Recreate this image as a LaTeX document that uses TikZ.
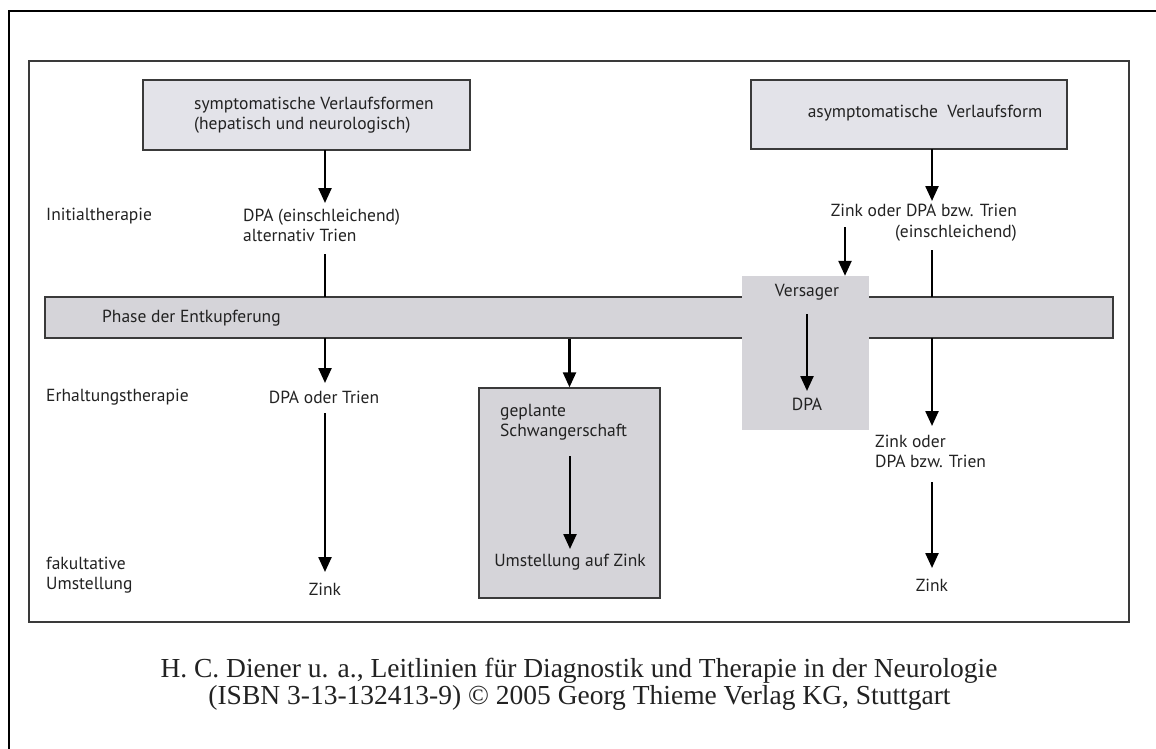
\documentclass[tikz,border=0pt]{standalone}
\usepackage{fontspec}
\setmainfont{PT Sans}
\newfontfamily\capfont{Liberation Serif}
\usetikzlibrary{arrows.meta}
\definecolor{boxtop}{HTML}{E3E3E9}
\definecolor{boxgray}{HTML}{D5D4D9}
\definecolor{framegray}{HTML}{3A3A3A}
\definecolor{txt}{HTML}{222222}
\tikzset{
  arr/.style={line width=2.4pt, black, -{Triangle[width=13pt,length=15pt]}},
  plainline/.style={line width=2.4pt, black},
  lbl/.style={inner sep=0pt, text=txt, font=\fontsize{17.5}{20.5}\selectfont},
  caplbl/.style={inner sep=0pt, text=txt, font=\capfont\fontsize{27.5}{27}\selectfont},
  topbox/.style={draw=framegray, line width=1.4pt, fill=boxtop},
  graybox/.style={draw=framegray, line width=1.4pt, fill=boxgray},
}
\begin{document}
\begin{tikzpicture}[x=1pt,y=-1pt]
\useasboundingbox (0,0) rectangle (1156,749);
\fill[white] (0,0) rectangle (1156,749);
% outer frame (only top and left visible)
\draw[line width=2.5pt, black] (9,760) -- (9,11) -- (1170,11);
% inner frame
\draw[framegray, line width=1.3pt] (29,61) rectangle (1129,622);

% top boxes
\node[topbox, minimum width=327pt, minimum height=70pt, inner sep=0pt] (box1) at (306.5,115) {};
\node[lbl, anchor=west, align=left] (box1t) at (194,115) {symptomatische Verlaufsformen\\(hepatisch und neurologisch)};
\node[topbox, minimum width=316pt, minimum height=69pt, inner sep=0pt] (box2) at (909,114.5) {};
\node[lbl] (box2t) at (925,113) {asymptomatische\ \ Verlaufsform};

% bar
\node[graybox, minimum width=1068pt, minimum height=41pt, inner sep=0pt] (bar) at (579,317.5) {};
\node[lbl, anchor=west] (bart) at (102,318) {Phase der Entkupferung};

% Versager box (on top of bar, no border)
\node[fill=boxgray, minimum width=127pt, minimum height=154pt, inner sep=0pt] (vers) at (805.5,353) {};
\node[lbl] (verst) at (807,292) {Versager};
\node[lbl] (versdpa) at (807,404) {DPA};

% left labels
\node[lbl, anchor=west] (init) at (46,216) {Initialtherapie};
\node[lbl, anchor=west] (erh) at (46,397) {Erhaltungstherapie};
\node[lbl, anchor=west, align=left] (fak) at (46,575) {fakultative\\Umstellung};

% left column
\node[lbl, anchor=west, align=left] (dpa1) at (243,225.5) {DPA (einschleichend)\\alternativ Trien};
\node[lbl] (dpa2) at (324,397) {DPA oder Trien};
\node[lbl] (zink1) at (325,589) {Zink};

\coordinate (l1a) at (325,150);
\coordinate (l1b) at (325,203);
\coordinate (l1c) at (325,254);
\coordinate (l1d) at (325,297);
\coordinate (l1e) at (325,338);
\coordinate (l1f) at (325,383);
\coordinate (l1g) at (325,413);
\coordinate (l1h) at (325,572);
\draw[arr] (l1a) -- (l1b);
\draw[plainline] (l1c) -- (l1d);
\draw[arr] (l1e) -- (l1f);
\draw[arr] (l1g) -- (l1h);

% middle column
\node[graybox, minimum width=181pt, minimum height=210pt, inner sep=0pt] (schw) at (569.5,493) {};
\node[lbl, anchor=west, align=left] (schwt) at (500,422) {geplante\\Schwangerschaft};
\node[lbl] (umst) at (570,562) {Umstellung auf Zink};
\draw[arr] (bar.south -| schw.north) -- (schw.north);
\coordinate (m1) at (570,456);
\coordinate (m2) at (570,549);
\draw[arr] (m1) -- (m2);

% Versager arrows
\coordinate (v1) at (807,314);
\coordinate (v2) at (807,391);
\draw[arr] (v1) -- (v2);
\coordinate (z1) at (845,227);
\draw[arr] (z1) -- (z1 |- vers.north);

% right column
\node[lbl, anchor=east, align=right] (zdpa) at (1017,222.5) {Zink oder DPA bzw. Trien\\(einschleichend)};
\node[lbl, anchor=west, align=left] (zdpa2) at (875,451.5) {Zink oder\\DPA bzw. Trien};
\node[lbl] (zink2) at (932,585) {Zink};
\coordinate (r1) at (932,149);
\coordinate (r2) at (932,201);
\coordinate (r3) at (932,250);
\coordinate (r4) at (932,297);
\coordinate (r5) at (932,338);
\coordinate (r6) at (932,426);
\coordinate (r7) at (932,482);
\coordinate (r8) at (932,568);
\draw[arr] (r1) -- (r2);
\draw[plainline] (r3) -- (r4);
\draw[arr] (r5) -- (r6);
\draw[arr] (r7) -- (r8);

% caption
\node[caplbl, anchor=base] (cap1) at (579,677) {H. C. Diener u. a., Leitlinien für Diagnostik und Therapie in der Neurologie};
\node[caplbl, anchor=base] (cap2) at (579.5,704) {(ISBN 3-13-132413-9) © 2005 Georg Thieme Verlag KG, Stuttgart};
\end{tikzpicture}
\end{document}
